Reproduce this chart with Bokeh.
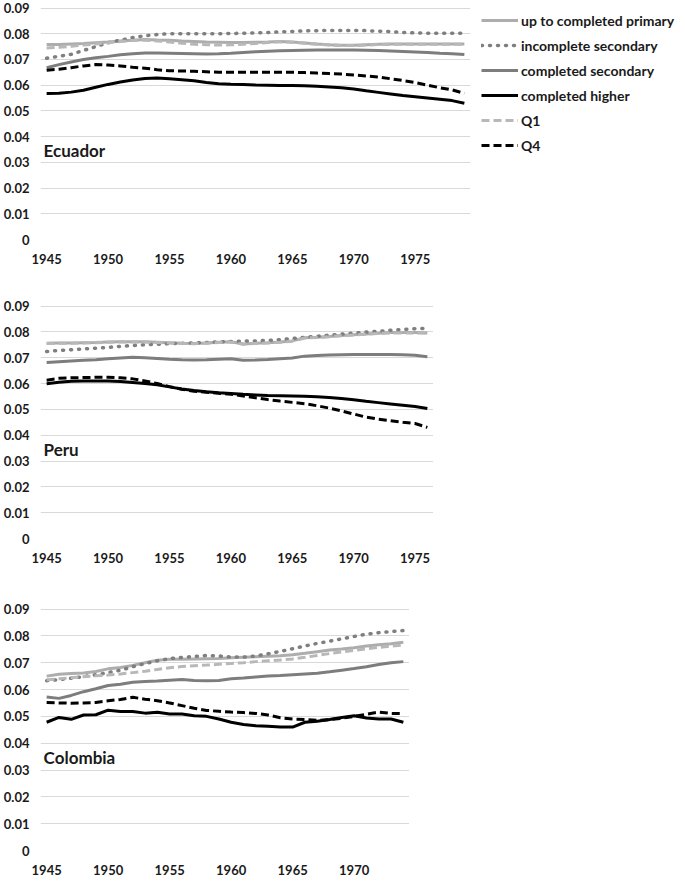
from bokeh.plotting import figure
from bokeh.models import Legend, LegendItem, FixedTicker, NumeralTickFormatter, Range1d
from bokeh.layouts import column
from bokeh.embed import file_html
from bokeh.resources import INLINE
from bokeh.core.properties import value

FONT = "Lato"

series_names = ["up to completed primary", "incomplete secondary", "completed secondary",
                "completed higher", "Q1", "Q4"]
x_tick_years = [1945, 1950, 1955, 1960, 1965, 1970, 1975]
y_ticks = [0, 0.01, 0.02, 0.03, 0.04, 0.05, 0.06, 0.07, 0.08, 0.09]

# ---------------- Ecuador 1945-1979 ----------------
ecu_years = list(range(1945, 1980))
ecu_primary = [0.0758, 0.0758, 0.0760, 0.0762, 0.0765, 0.0768, 0.0772, 0.0775, 0.0778, 0.0776,
               0.0775, 0.0772, 0.0770, 0.0768, 0.0767, 0.0766, 0.0766, 0.0767, 0.0768, 0.0770,
               0.0768, 0.0764, 0.0760, 0.0757, 0.0755, 0.0755, 0.0757, 0.0759, 0.0760, 0.0760,
               0.0760, 0.0760, 0.0760, 0.0760, 0.0760]
ecu_incsec = [0.0705, 0.0712, 0.0720, 0.0735, 0.0750, 0.0765, 0.0775, 0.0785, 0.0792, 0.0797,
              0.0800, 0.0800, 0.0800, 0.0800, 0.0800, 0.0801, 0.0802, 0.0803, 0.0805, 0.0807,
              0.0809, 0.0811, 0.0812, 0.0813, 0.0813, 0.0813, 0.0812, 0.0810, 0.0808, 0.0805,
              0.0803, 0.0802, 0.0802, 0.0802, 0.0802]
ecu_compsec = [0.0668, 0.0680, 0.0690, 0.0700, 0.0707, 0.0712, 0.0718, 0.0722, 0.0725, 0.0725,
               0.0724, 0.0723, 0.0722, 0.0721, 0.0722, 0.0724, 0.0727, 0.0730, 0.0732, 0.0734,
               0.0735, 0.0736, 0.0737, 0.0737, 0.0737, 0.0737, 0.0736, 0.0735, 0.0733, 0.0731,
               0.0729, 0.0727, 0.0724, 0.0722, 0.0719]
ecu_higher = [0.0568, 0.0569, 0.0573, 0.0580, 0.0592, 0.0603, 0.0612, 0.0620, 0.0626, 0.0628,
              0.0625, 0.0621, 0.0617, 0.0610, 0.0606, 0.0604, 0.0603, 0.0601, 0.0600, 0.0599,
              0.0599, 0.0598, 0.0596, 0.0593, 0.0590, 0.0585, 0.0578, 0.0572, 0.0566, 0.0560,
              0.0555, 0.0550, 0.0545, 0.0540, 0.0530]
ecu_q1 = [0.0745, 0.0747, 0.0751, 0.0756, 0.0760, 0.0765, 0.0770, 0.0774, 0.0775, 0.0772,
          0.0768, 0.0763, 0.0759, 0.0757, 0.0756, 0.0757, 0.0759, 0.0762, 0.0766, 0.0769,
          0.0767, 0.0763, 0.0759, 0.0756, 0.0754, 0.0754, 0.0756, 0.0758, 0.0759, 0.0759,
          0.0759, 0.0759, 0.0759, 0.0759, 0.0759]
ecu_q4 = [0.0658, 0.0662, 0.0668, 0.0675, 0.0680, 0.0678, 0.0675, 0.0670, 0.0666, 0.0660,
          0.0656, 0.0655, 0.0654, 0.0652, 0.0650, 0.0650, 0.0650, 0.0650, 0.0650, 0.0650,
          0.0650, 0.0649, 0.0647, 0.0645, 0.0643, 0.0640, 0.0636, 0.0632, 0.0625, 0.0618,
          0.0610, 0.0600, 0.0590, 0.0582, 0.0568]

# ---------------- Peru 1945-1976 ----------------
per_years = list(range(1945, 1977))
per_primary = [0.0756, 0.0757, 0.0757, 0.0758, 0.0759, 0.0761, 0.0762, 0.0762, 0.0762, 0.0760,
               0.0758, 0.0756, 0.0755, 0.0757, 0.0760, 0.0762, 0.0753, 0.0756, 0.0758, 0.0761,
               0.0765, 0.0777, 0.0779, 0.0782, 0.0786, 0.0789, 0.0792, 0.0795, 0.0797, 0.0797,
               0.0797, 0.0796]
per_incsec = [0.0724, 0.0728, 0.0731, 0.0734, 0.0737, 0.0740, 0.0744, 0.0747, 0.0750, 0.0752,
              0.0754, 0.0756, 0.0757, 0.0759, 0.0761, 0.0763, 0.0764, 0.0765, 0.0767, 0.0770,
              0.0774, 0.0779, 0.0783, 0.0787, 0.0791, 0.0795, 0.0799, 0.0802, 0.0806, 0.0809,
              0.0812, 0.0814]
per_compsec = [0.0681, 0.0684, 0.0687, 0.0690, 0.0692, 0.0696, 0.0699, 0.0702, 0.0700, 0.0697,
               0.0694, 0.0692, 0.0691, 0.0692, 0.0694, 0.0696, 0.0690, 0.0691, 0.0693, 0.0696,
               0.0699, 0.0706, 0.0708, 0.0710, 0.0711, 0.0712, 0.0712, 0.0712, 0.0712, 0.0711,
               0.0709, 0.0704]
per_higher = [0.0599, 0.0605, 0.0609, 0.0610, 0.0610, 0.0610, 0.0608, 0.0604, 0.0600, 0.0595,
              0.0587, 0.0579, 0.0573, 0.0568, 0.0564, 0.0561, 0.0558, 0.0556, 0.0554, 0.0553,
              0.0552, 0.0551, 0.0549, 0.0546, 0.0542, 0.0537, 0.0531, 0.0526, 0.0521, 0.0516,
              0.0511, 0.0503]
per_q1 = [0.0755, 0.0756, 0.0756, 0.0757, 0.0758, 0.0760, 0.0761, 0.0761, 0.0761, 0.0759,
          0.0757, 0.0755, 0.0754, 0.0756, 0.0759, 0.0761, 0.0752, 0.0755, 0.0757, 0.0760,
          0.0764, 0.0776, 0.0778, 0.0781, 0.0785, 0.0788, 0.0791, 0.0794, 0.0796, 0.0796,
          0.0796, 0.0795]
per_q4 = [0.0613, 0.0620, 0.0622, 0.0623, 0.0624, 0.0624, 0.0622, 0.0618, 0.0610, 0.0600,
          0.0588, 0.0578, 0.0570, 0.0566, 0.0562, 0.0558, 0.0552, 0.0545, 0.0538, 0.0532,
          0.0527, 0.0522, 0.0514, 0.0505, 0.0494, 0.0482, 0.0470, 0.0462, 0.0456, 0.0450,
          0.0445, 0.0430]

# ---------------- Colombia 1945-1974 ----------------
col_years = list(range(1945, 1975))
col_primary = [0.0650, 0.0657, 0.0660, 0.0662, 0.0667, 0.0677, 0.0682, 0.0690, 0.0700, 0.0709,
               0.0713, 0.0713, 0.0714, 0.0715, 0.0716, 0.0718, 0.0720, 0.0722, 0.0724, 0.0726,
               0.0730, 0.0735, 0.0741, 0.0747, 0.0751, 0.0756, 0.0762, 0.0767, 0.0771, 0.0776]
col_incsec = [0.0633, 0.0637, 0.0642, 0.0648, 0.0655, 0.0663, 0.0672, 0.0685, 0.0697, 0.0707,
              0.0715, 0.0720, 0.0723, 0.0727, 0.0725, 0.0721, 0.0721, 0.0725, 0.0733, 0.0742,
              0.0752, 0.0762, 0.0772, 0.0780, 0.0789, 0.0798, 0.0806, 0.0812, 0.0816, 0.0820]
col_compsec = [0.0572, 0.0567, 0.0578, 0.0592, 0.0603, 0.0615, 0.0620, 0.0627, 0.0630, 0.0632,
               0.0635, 0.0637, 0.0634, 0.0633, 0.0634, 0.0640, 0.0643, 0.0647, 0.0650, 0.0652,
               0.0655, 0.0658, 0.0661, 0.0666, 0.0672, 0.0678, 0.0685, 0.0693, 0.0700, 0.0704]
col_higher = [0.0478, 0.0496, 0.0489, 0.0505, 0.0506, 0.0523, 0.0518, 0.0518, 0.0512, 0.0515,
              0.0509, 0.0509, 0.0502, 0.0500, 0.0490, 0.0478, 0.0470, 0.0465, 0.0463, 0.0460,
              0.0460, 0.0478, 0.0482, 0.0488, 0.0496, 0.0502, 0.0494, 0.0490, 0.0490, 0.0478]
col_q1 = [0.0636, 0.0640, 0.0644, 0.0648, 0.0651, 0.0654, 0.0658, 0.0663, 0.0668, 0.0675,
          0.0681, 0.0686, 0.0689, 0.0691, 0.0694, 0.0697, 0.0700, 0.0704, 0.0707, 0.0710,
          0.0714, 0.0720, 0.0727, 0.0734, 0.0740, 0.0746, 0.0752, 0.0757, 0.0762, 0.0766]
col_q4 = [0.0552, 0.0550, 0.0549, 0.0550, 0.0552, 0.0558, 0.0563, 0.0571, 0.0564, 0.0558,
          0.0550, 0.0540, 0.0530, 0.0522, 0.0519, 0.0516, 0.0514, 0.0511, 0.0505, 0.0495,
          0.0490, 0.0488, 0.0485, 0.0488, 0.0493, 0.0500, 0.0508, 0.0516, 0.0511, 0.0510]

STYLES = [
    dict(line_color="#adadad", line_width=3, line_dash="solid"),
    dict(line_color="#7f7f7f", line_width=3.5, line_dash="1 7", line_cap="round"),
    dict(line_color="#7d7d7d", line_width=3, line_dash="solid"),
    dict(line_color="#000000", line_width=3, line_dash="solid"),
    dict(line_color="#b8b8b8", line_width=3, line_dash="8 4"),
    dict(line_color="#000000", line_width=3, line_dash="8 4"),
]

PX_PER_YEAR = 12.29
TEXT_COLOR = "#1a1a1a"


def make_panel(name, years, series, frame_h, border_top):
    n = len(years)
    p = figure(frame_width=int(round(n * PX_PER_YEAR)), frame_height=frame_h,
               x_range=Range1d(years[0] - 0.5, years[-1] + 0.5),
               y_range=Range1d(0, 0.0902),
               output_backend="svg", toolbar_location=None,
               min_border_left=0, min_border_right=0, min_border_top=border_top,
               min_border_bottom=0, background_fill_color="white",
               border_fill_color="white")
    p.outline_line_color = None
    p.xgrid.grid_line_color = None
    p.ygrid.grid_line_color = "#d9d9d9"
    p.ygrid.grid_line_width = 1
    for ax in (p.xaxis[0], p.yaxis[0]):
        ax.axis_line_color = None
        ax.major_tick_line_color = None
        ax.minor_tick_line_color = None
        ax.major_label_text_font = FONT
        ax.major_label_text_font_style = "bold"
        ax.major_label_text_font_size = "13px"
        ax.major_label_text_color = TEXT_COLOR
    p.xaxis.ticker = FixedTicker(ticks=[t for t in x_tick_years if t <= years[-1]])
    p.xaxis.major_label_standoff = 8
    p.yaxis.ticker = FixedTicker(ticks=y_ticks)
    p.yaxis.formatter = NumeralTickFormatter(format="0.[00]")
    p.yaxis.major_label_standoff = 5
    p.ygrid.ticker = FixedTicker(ticks=y_ticks)

    renderers = []
    for vals, st in zip(series, STYLES):
        r = p.line(years, vals, **st)
        renderers.append(r)

    p.text(x=[years[0] - 0.25], y=[0.0345], text=[name],
           text_font=value(FONT), text_font_style="bold", text_font_size="17px",
           text_color=TEXT_COLOR, text_baseline="middle", text_align="left")
    return p, renderers


p_ecu, rends = make_panel("Ecuador", ecu_years,
                          [ecu_primary, ecu_incsec, ecu_compsec, ecu_higher, ecu_q1, ecu_q4],
                          232, 7)
legend = Legend(items=[LegendItem(label=nm, renderers=[r]) for nm, r in zip(series_names, rends)],
                location=(11, 84), orientation="vertical",
                glyph_width=37, glyph_height=20, label_height=20, spacing=5,
                label_standoff=3, padding=0, margin=0,
                border_line_color=None, background_fill_alpha=0,
                label_text_font=FONT, label_text_font_style="bold",
                label_text_font_size="14px", label_text_color=TEXT_COLOR)
p_ecu.add_layout(legend, "right")

p_per, _ = make_panel("Peru", per_years,
                      [per_primary, per_incsec, per_compsec, per_higher, per_q1, per_q4],
                      233, 39)
p_col, _ = make_panel("Colombia", col_years,
                      [col_primary, col_incsec, col_compsec, col_higher, col_q1, col_q4],
                      242, 43)

layout = column(p_ecu, p_per, p_col, spacing=0)
open("out.html", "w").write(file_html(layout, INLINE))
